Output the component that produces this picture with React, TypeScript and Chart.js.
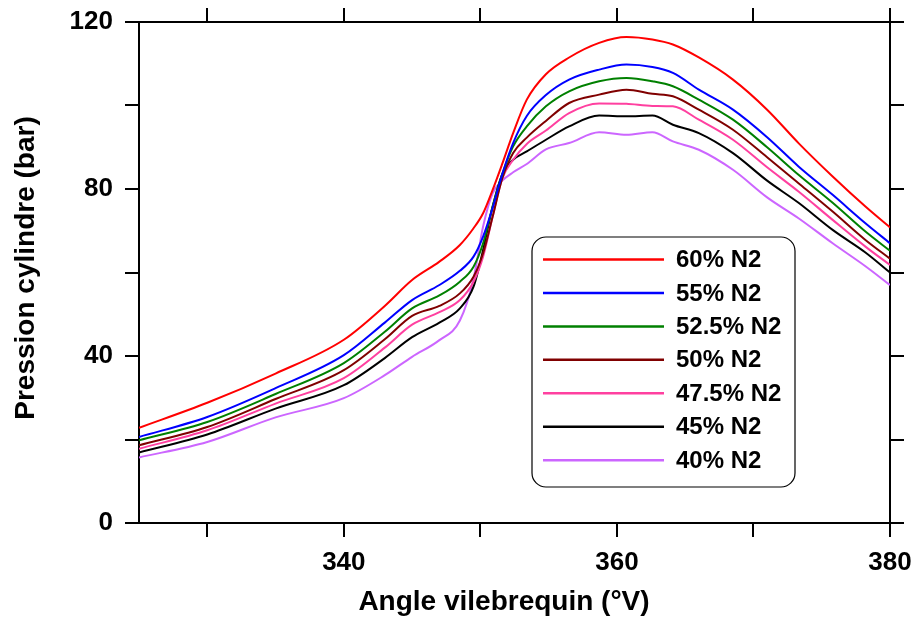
import React, { useEffect, useRef } from 'react';
import { Chart, registerables } from 'chart.js';

Chart.register(...registerables);

const FONT = '"Liberation Sans", Arial, Helvetica, sans-serif';

// Crank angle samples (°V)
const angles = [325, 330, 335, 340, 343, 345, 347, 348.5, 349.5, 350.2, 350.9, 351.6, 352.4, 353.4, 354.8, 356.5, 358.7, 360.7, 362.6, 364.1, 366, 368.5, 371, 373.3, 375.8, 378.2, 380];

const seriesLabels = ['60% N2', '55% N2', '52.5% N2', '50% N2', '47.5% N2', '45% N2', '40% N2'];
const seriesColors = ['#ff0000', '#0000ff', '#008000', '#800000', '#ff40a0', '#000000', '#cc66ff'];

// Cylinder pressure (bar)
const n2_60 = [22.8, 28.8, 35.8, 43.9, 52.0, 58.2, 62.6, 66.6, 70.6, 74.2, 79.8, 86.0, 93.4, 101.4, 107.5, 111.5, 115.0, 116.4, 115.8, 114.6, 111.5, 106.2, 99.0, 91.0, 83.0, 75.8, 70.8];
const n2_55 = [20.6, 25.4, 32.3, 40.2, 48.0, 53.4, 57.0, 60.4, 63.8, 68.6, 75.5, 83.5, 91.0, 97.5, 102.5, 106.2, 108.6, 109.8, 109.2, 107.8, 103.8, 99.0, 92.4, 85.4, 78.6, 71.8, 67.0];
const n2_525 = [19.8, 24.2, 30.9, 38.3, 45.8, 51.4, 54.5, 57.8, 61.4, 67.0, 75.8, 83.5, 90.2, 95.0, 99.8, 103.4, 105.8, 106.6, 105.8, 104.6, 101.4, 96.6, 90.0, 83.4, 76.7, 69.8, 65.2];
const n2_50 = [18.6, 23.0, 29.7, 36.6, 44.0, 49.6, 52.0, 55.0, 59.0, 64.6, 73.4, 82.5, 88.6, 92.3, 96.3, 100.6, 102.6, 103.8, 102.8, 102.2, 99.0, 94.2, 87.6, 81.4, 74.6, 67.8, 63.3];
const n2_475 = [17.8, 22.2, 28.6, 34.7, 42.0, 47.5, 50.5, 53.4, 57.8, 63.8, 73.4, 82.5, 87.0, 90.8, 94.0, 98.2, 100.5, 100.4, 99.9, 99.8, 96.6, 91.8, 85.2, 79.4, 72.6, 66.2, 61.8];
const n2_45 = [16.9, 21.2, 27.4, 33.0, 39.5, 44.5, 48.0, 51.4, 56.6, 65.4, 75.8, 83.5, 87.0, 89.0, 91.8, 95.0, 97.6, 97.4, 97.6, 95.4, 93.4, 88.6, 82.0, 76.7, 70.2, 64.8, 60.0];
const n2_40 = [15.7, 19.4, 25.3, 29.9, 35.4, 39.8, 43.8, 48.5, 58.5, 71.0, 79.0, 82.0, 84.0, 86.0, 89.5, 91.0, 93.6, 93.0, 93.6, 91.4, 89.4, 84.6, 78.0, 73.0, 67.0, 61.5, 57.0];

const seriesValues = [n2_60, n2_55, n2_525, n2_50, n2_475, n2_45, n2_40];

const xTicks = [330, 340, 350, 360, 370, 380];
const xTickLabels = [340, 360, 380];
const yTicks = [0, 20, 40, 60, 80, 100, 120];
const yTickLabels = [0, 40, 80, 120];

const xTitle = 'Angle vilebrequin (°V)';
const yTitle = 'Pression cylindre (bar)';

const overlayPlugin = {
  id: 'overlay',
  afterDraw(chart: any) {
    const ctx = chart.ctx as CanvasRenderingContext2D;
    ctx.save();
    // legend box
    const bx = 532, by = 237, bw = 263, bh = 250, r = 14;
    ctx.beginPath();
    (ctx as any).roundRect(bx, by, bw, bh, r);
    ctx.fillStyle = '#ffffff';
    ctx.fill();
    ctx.lineWidth = 1.2;
    ctx.strokeStyle = '#000000';
    ctx.stroke();
    chart.data.datasets.forEach((ds: any, i: number) => {
      const y = 259.5 + i * 33.45;
      ctx.beginPath();
      ctx.moveTo(543, y);
      ctx.lineTo(664, y);
      ctx.strokeStyle = ds.borderColor;
      ctx.lineWidth = 2.5;
      ctx.stroke();
      ctx.fillStyle = '#000000';
      ctx.font = `bold 24px ${FONT}`;
      ctx.textBaseline = 'middle';
      ctx.textAlign = 'left';
      ctx.fillText(ds.label, 676, y + 1);
    });
    // axis titles
    ctx.fillStyle = '#000000';
    ctx.font = `bold 28px ${FONT}`;
    ctx.textAlign = 'center';
    ctx.textBaseline = 'middle';
    ctx.fillText(xTitle, 504, 602);
    ctx.translate(26, 268);
    ctx.rotate(-Math.PI / 2);
    ctx.fillText(yTitle, 0, 0);
    ctx.restore();
  },
};

const gridOpts = {
  drawOnChartArea: false,
  drawTicks: true,
  tickLength: 14,
  tickWidth: 2,
  tickColor: '#000000',
  lineWidth: 2,
  color: '#000000',
};
const borderOpts = { display: true, color: '#000000', width: 2 };
const tickFont = { family: FONT, size: 26, weight: 'bold' as const };

const fixBox = (w: number | null, h: number | null) => (s: any) => {
  if (w !== null) s.width = w;
  if (h !== null) s.height = h;
  s.paddingTop = 0;
  s.paddingBottom = 0;
  s.paddingLeft = 0;
  s.paddingRight = 0;
};

export default function App() {
  const canvasRef = useRef<HTMLCanvasElement | null>(null);

  useEffect(() => {
    if (!canvasRef.current) return;
    const chart = new Chart(canvasRef.current, {
      type: 'line',
      data: {
        datasets: seriesLabels.map((label, i) => ({
          label,
          data: angles.map((a, j) => ({ x: a, y: seriesValues[i][j] })),
          borderColor: seriesColors[i],
          backgroundColor: seriesColors[i],
          borderWidth: 2,
          pointRadius: 0,
          cubicInterpolationMode: 'monotone' as const,
          fill: false,
          xAxisID: 'x',
          yAxisID: 'y',
        })),
      },
      options: {
        responsive: false,
        animation: false,
        layout: { padding: 0 },
        plugins: { legend: { display: false }, tooltip: { enabled: false } },
        scales: {
          x: {
            type: 'linear',
            position: 'bottom',
            min: 325,
            max: 380,
            afterBuildTicks: (s: any) => { s.ticks = xTicks.map((v) => ({ value: v })); },
            afterFit: fixBox(null, 95),
            ticks: {
              autoSkip: false,
              maxRotation: 0,
              padding: 10,
              color: '#000000',
              font: tickFont,
              callback: (v: any) => (xTickLabels.includes(Number(v)) ? String(v) : ''),
            },
            grid: gridOpts,
            border: borderOpts,
          },
          x2: {
            type: 'linear',
            position: 'top',
            min: 325,
            max: 380,
            afterBuildTicks: (s: any) => { s.ticks = xTicks.map((v) => ({ value: v })); },
            afterFit: fixBox(null, 22),
            ticks: { display: false },
            grid: gridOpts,
            border: borderOpts,
          },
          y: {
            type: 'linear',
            position: 'left',
            min: 0,
            max: 120,
            afterBuildTicks: (s: any) => { s.ticks = yTicks.map((v) => ({ value: v })); },
            afterFit: fixBox(139, null),
            ticks: {
              autoSkip: false,
              padding: 12,
              color: '#000000',
              font: tickFont,
              callback: (v: any) => (yTickLabels.includes(Number(v)) ? String(v) : ''),
            },
            grid: gridOpts,
            border: borderOpts,
          },
          y2: {
            type: 'linear',
            position: 'right',
            min: 0,
            max: 120,
            afterBuildTicks: (s: any) => { s.ticks = yTicks.map((v) => ({ value: v })); },
            afterFit: fixBox(26, null),
            ticks: { display: false },
            grid: gridOpts,
            border: borderOpts,
          },
        },
      },
      plugins: [overlayPlugin],
    });
    return () => chart.destroy();
  }, []);

  return (
    <div style={{ position: 'absolute', left: 0, top: 0, width: 916, height: 618, background: '#ffffff' }}>
      <canvas ref={canvasRef} width={916} height={618} style={{ width: 916, height: 618, display: 'block' }} />
    </div>
  );
}
